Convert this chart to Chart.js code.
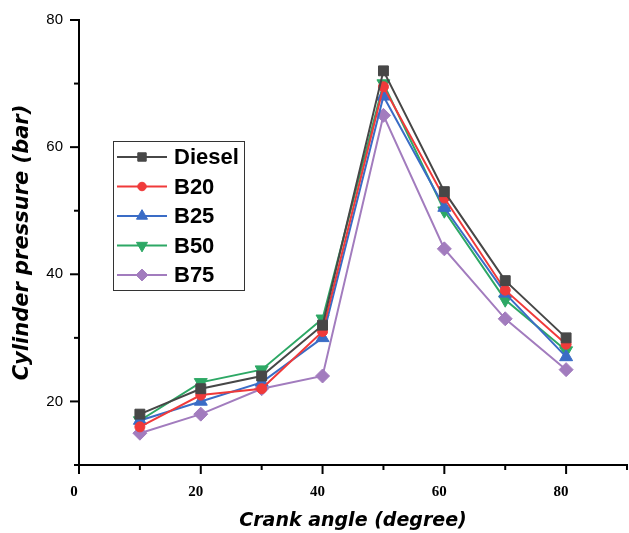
<!DOCTYPE html>
<html>
<head>
<meta charset="utf-8">
<script src="https://cdn.jsdelivr.net/npm/chart.js@4.4.0/dist/chart.umd.min.js"></script>
<style>
html, body { margin: 0; padding: 0; background: #fff; }
#wrap { width: 629px; height: 533px; }
</style>
</head>
<body>
<div id="wrap"><canvas id="pressureChart" width="629" height="533"></canvas></div>
<script>
// Datos
const crankAngles = [10, 20, 30, 40, 50, 60, 70, 80];
const seriesNames = ['Diesel', 'B20', 'B25', 'B50', 'B75'];
const diesel = [18, 22, 24, 32, 72, 53, 39, 30];
const b20 = [16, 21, 22, 31, 69.5, 52, 37.5, 29];
const b25 = [17, 20, 23, 30, 68, 50.5, 37, 27];
const b50 = [17, 23, 25, 33, 70, 50, 36, 28];
const b75 = [15, 18, 22, 24, 65, 44, 33, 25];
const xTickLabels = [0, 20, 40, 60, 80];
const yTickLabels = [20, 40, 60, 80];

const seriesValues = [diesel, b20, b25, b50, b75];
const colors = ['#474747', '#f03a3a', '#3a6cc6', '#2da865', '#a27cbe'];
const pointStyles = ['rect', 'circle', 'triangle', 'triangle', 'rectRot'];
const pointRotations = [0, 0, 0, 180, 0];
const pointSizes = [7, 5, 7.5, 7.5, 7];

const datasets = seriesNames.map((name, i) => ({
    label: name,
    data: crankAngles.map((a, j) => ({ x: a, y: seriesValues[i][j] })),
    borderColor: colors[i],
    backgroundColor: colors[i],
    pointBackgroundColor: colors[i],
    pointBorderColor: colors[i],
    pointStyle: pointStyles[i],
    pointRotation: pointRotations[i],
    pointRadius: pointSizes[i],
    pointBorderWidth: 1,
    borderWidth: 2,
    tension: 0,
    fill: false
}));

// Marcas de los ejes: mayores largas, menores cortas
const axisTicks = {
    id: 'axisTicks',
    afterDraw(chart) {
        const ctx = chart.ctx;
        const xs = chart.scales.x;
        const ys = chart.scales.y;
        ctx.save();
        ctx.strokeStyle = '#000';
        ctx.lineWidth = 2;
        xs.ticks.forEach(t => {
            const px = xs.getPixelForValue(t.value);
            const len = xTickLabels.includes(t.value) ? 9 : 5;
            ctx.beginPath();
            ctx.moveTo(px, xs.top);
            ctx.lineTo(px, xs.top + len);
            ctx.stroke();
        });
        ys.ticks.forEach(t => {
            const py = ys.getPixelForValue(t.value);
            const len = yTickLabels.includes(t.value) ? 9 : 5;
            ctx.beginPath();
            ctx.moveTo(ys.right, py);
            ctx.lineTo(ys.right - len, py);
            ctx.stroke();
        });
        ctx.restore();
    }
};

// Leyenda dentro del área del gráfico
const boxLegend = {
    id: 'boxLegend',
    afterDraw(chart, args, opts) {
        const ctx = chart.ctx;
        ctx.save();
        ctx.fillStyle = '#fff';
        ctx.fillRect(opts.left, opts.top, opts.width, opts.height);
        ctx.strokeStyle = '#333';
        ctx.lineWidth = 1;
        ctx.strokeRect(opts.left + 0.5, opts.top + 0.5, opts.width, opts.height);
        ctx.font = 'bold 22px "Liberation Sans", Arial, sans-serif';
        ctx.textBaseline = 'middle';
        chart.data.datasets.forEach((ds, i) => {
            const y = opts.top + opts.firstRow + i * opts.rowGap;
            const x0 = opts.left + 4;
            const x1 = x0 + opts.lineLen;
            ctx.strokeStyle = ds.borderColor;
            ctx.fillStyle = ds.borderColor;
            ctx.lineWidth = 2;
            ctx.beginPath();
            ctx.moveTo(x0, y);
            ctx.lineTo(x1, y);
            ctx.stroke();
            ctx.lineWidth = 1;
            Chart.helpers.drawPoint(ctx, {
                pointStyle: ds.pointStyle,
                rotation: ds.pointRotation,
                radius: ds.pointRadius * 0.85,
                borderWidth: 1
            }, (x0 + x1) / 2, y);
            ctx.fillStyle = '#000';
            ctx.fillText(ds.label, x1 + 7, y + 1);
        });
        ctx.restore();
    }
};

const ctxPressure = document.getElementById('pressureChart').getContext('2d');
const pressureChart = new Chart(ctxPressure, {
    type: 'line',
    data: { datasets: datasets },
    plugins: [axisTicks, boxLegend],
    options: {
        responsive: false,
        animation: false,
        layout: { autoPadding: false, padding: { top: 20, right: 2, left: 0, bottom: 0 } },
        plugins: {
            legend: { display: false },
            tooltip: { enabled: false },
            boxLegend: { left: 113, top: 141, width: 131, height: 149, firstRow: 16, rowGap: 29.5, lineLen: 50 }
        },
        scales: {
            x: {
                type: 'linear',
                min: 0,
                max: 90,
                afterFit: s => { s.height = 68; },
                border: { display: true, color: '#000', width: 2 },
                grid: { drawOnChartArea: false, tickLength: 18, tickColor: 'rgba(0,0,0,0)' },
                ticks: {
                    stepSize: 10,
                    padding: 0,
                    labelOffset: -5,
                    maxRotation: 0,
                    autoSkip: false,
                    color: '#000',
                    font: { family: '"Liberation Serif", "Times New Roman", serif', size: 15, weight: 'bold' },
                    callback: v => xTickLabels.includes(v) ? String(v) : ''
                },
                title: {
                    display: true,
                    text: 'Crank angle (degree)',
                    color: '#000',
                    padding: { top: 0, bottom: 1 },
                    font: { family: '"DejaVu Sans", Arial, sans-serif', size: 19, weight: 'bold', style: 'italic' }
                }
            },
            y: {
                min: 10,
                max: 80,
                afterFit: s => { s.width = 79; },
                border: { display: true, color: '#000', width: 2 },
                grid: { drawOnChartArea: false, tickLength: 9, tickColor: 'rgba(0,0,0,0)' },
                ticks: {
                    stepSize: 10,
                    padding: 7,
                    autoSkip: false,
                    color: '#000',
                    font: { family: '"Liberation Sans", Arial, sans-serif', size: 15 },
                    callback: v => yTickLabels.includes(v) ? String(v) : ''
                },
                title: {
                    display: true,
                    text: 'Cylinder pressure (bar)',
                    color: '#000',
                    padding: { top: 10, bottom: 0 },
                    font: { family: '"DejaVu Sans", Arial, sans-serif', size: 21, weight: 'bold', style: 'italic' }
                }
            }
        }
    }
});
</script>
</body>
</html>
